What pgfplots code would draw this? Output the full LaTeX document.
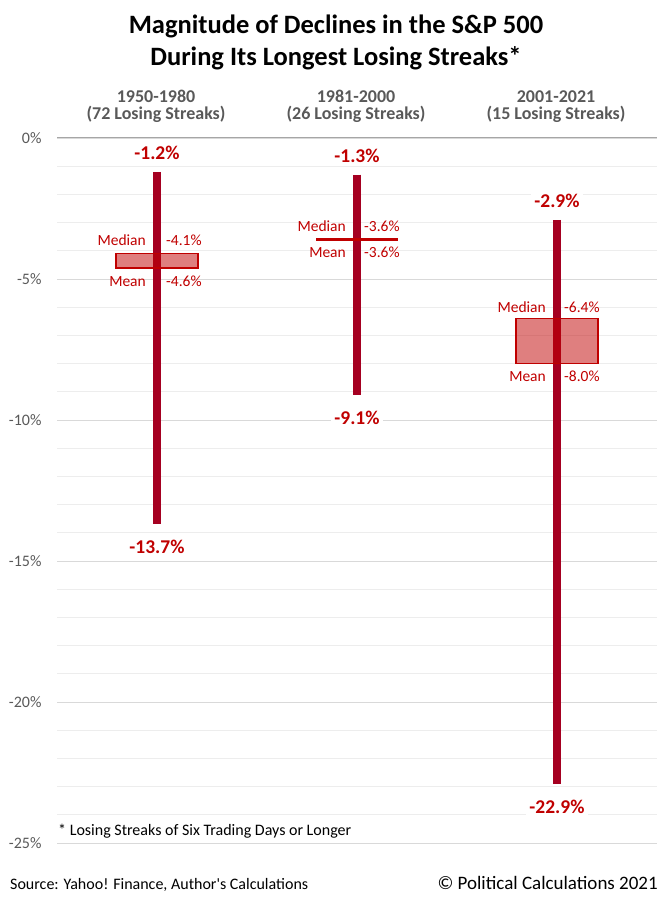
\documentclass[border=0pt]{standalone}
\usepackage{fontspec}
\setmainfont{Carlito}[Ligatures=TeXOff]
\usepackage{pgfplots}
\pgfplotsset{compat=1.18}
\definecolor{barred}{HTML}{A50021}
\definecolor{boxred}{HTML}{C00000}
\definecolor{labred}{HTML}{C00000}
\definecolor{tickgray}{HTML}{595959}
\definecolor{gridmajor}{HTML}{D9D9D9}
\definecolor{gridminor}{HTML}{EDEDED}
\definecolor{zeroline}{HTML}{A6A6A6}
\begin{document}
\begin{tikzpicture}[x=1pt,y=1pt]
\path[use as bounding box] (0,0) rectangle (669,900);
\begin{axis}[
  at={(57pt,57pt)}, anchor=south west, scale only axis,
  width=600pt, height=705pt,
  xmin=-0.5, xmax=2.5, ymin=-25, ymax=0,
  axis line style={draw=none},
  tick style={draw=none},
  xtick=\empty,
  ytick={-25,-20,-15,-10,-5,0},
  minor ytick={-24,-23,-22,-21,-19,-18,-17,-16,-14,-13,-12,-11,-9,-8,-7,-6,-4,-3,-2,-1},
  ymajorgrids, yminorgrids,
  major grid style={color=gridmajor, line width=0.9pt},
  minor grid style={color=gridminor, line width=0.9pt},
  /pgf/number format/assume math mode=true,
  yticklabel={\pgfmathprintnumber{\tick}\%},
  yticklabel style={font=\fontsize{16}{19}\selectfont, text=tickgray, anchor=east, xshift=-12pt},
  clip=false,
]
% zero line
\addplot[zeroline, line width=1pt] coordinates {(-0.5,0) (2.5,0)};
% high-low bars
\addplot[barred, line width=8pt] coordinates {(0,-1.2) (0,-13.7)};
\addplot[barred, line width=8pt] coordinates {(1,-1.3) (1,-9.1)};
\addplot[barred, line width=8pt] coordinates {(2,-2.9) (2,-22.9)};
% median-mean boxes
\addplot[draw=boxred, line width=1.6pt, fill=boxred, fill opacity=0.5] coordinates {(-0.205,-4.1) (0.205,-4.1) (0.205,-4.6) (-0.205,-4.6)} --cycle;
\addplot[draw=boxred, line width=2.6pt] coordinates {(0.795,-3.6) (1.205,-3.6)};
\addplot[draw=boxred, line width=1.6pt, fill=boxred, fill opacity=0.5] coordinates {(1.795,-6.4) (2.205,-6.4) (2.205,-8.0) (1.795,-8.0)} --cycle;
% high/low labels
\tikzset{hl/.style={font=\fontsize{19.5}{22}\selectfont\bfseries, text=labred, fill=white, inner sep=3pt},
         ml/.style={font=\fontsize{15.5}{18}\selectfont, text=labred, inner sep=0pt}}
\node[hl] at (axis cs:0,-1.2) [yshift=19pt] {-1.2\%};
\node[hl] at (axis cs:0,-13.7) [yshift=-23pt] {-13.7\%};
\node[hl] at (axis cs:1,-1.3) [yshift=19pt] {-1.3\%};
\node[hl] at (axis cs:1,-9.1) [yshift=-23pt] {-9.1\%};
\node[hl] at (axis cs:2,-2.9) [yshift=19pt] {-2.9\%};
\node[hl] at (axis cs:2,-22.9) [yshift=-23pt] {-22.9\%};
% median / mean labels
\node[ml, anchor=east] at (axis cs:0,-4.1) [xshift=-11pt, yshift=13pt] {Median};
\node[ml, anchor=west] at (axis cs:0,-4.1) [xshift=9pt, yshift=13pt] {-4.1\%};
\node[ml, anchor=east] at (axis cs:0,-4.6) [xshift=-11pt, yshift=-14pt] {Mean};
\node[ml, anchor=west] at (axis cs:0,-4.6) [xshift=9pt, yshift=-14pt] {-4.6\%};
\node[ml, anchor=east] at (axis cs:1,-3.6) [xshift=-11pt, yshift=13pt] {Median};
\node[ml, anchor=west] at (axis cs:1,-3.6) [xshift=7pt, yshift=13pt] {-3.6\%};
\node[ml, anchor=east] at (axis cs:1,-3.6) [xshift=-11pt, yshift=-13pt] {Mean};
\node[ml, anchor=west] at (axis cs:1,-3.6) [xshift=7pt, yshift=-13pt] {-3.6\%};
\node[ml, anchor=east] at (axis cs:2,-6.4) [xshift=-11pt, yshift=11pt] {Median};
\node[ml, anchor=west] at (axis cs:2,-6.4) [xshift=7pt, yshift=11pt] {-6.4\%};
\node[ml, anchor=east] at (axis cs:2,-8.0) [xshift=-11pt, yshift=-13pt] {Mean};
\node[ml, anchor=west] at (axis cs:2,-8.0) [xshift=7pt, yshift=-13pt] {-8.0\%};
\end{axis}
% title
\node[anchor=base, font=\fontsize{26.5}{30}\selectfont\bfseries] at (336,866) {Magnitude of Declines in the S\&P 500};
\node[anchor=base, font=\fontsize{26.5}{30}\selectfont\bfseries] at (336,834) {During Its Longest Losing Streaks*};
% headers
\foreach \cx/\ya/\yb in {156/1950-1980/(72 Losing Streaks), 356/1981-2000/(26 Losing Streaks), 556/2001-2021/(15 Losing Streaks)} {
  \node[anchor=base, font=\fontsize{18}{21}\selectfont\bfseries, text=tickgray] at (\cx,797) {\ya};
  \node[anchor=base, font=\fontsize{18}{21}\selectfont\bfseries, text=tickgray] at (\cx,780) {\yb};
}
% footnote and source
\node[anchor=west, font=\fontsize{16}{19}\selectfont, inner sep=0pt] at (58,69) {* Losing Streaks of Six Trading Days or Longer};
\node[anchor=west, font=\fontsize{16}{19}\selectfont, inner sep=0pt] at (10,15) {Source: Yahoo! Finance, Author's Calculations};
\node[anchor=east, font=\fontsize{19}{22}\selectfont, inner sep=0pt] at (658,17) {© Political Calculations 2021};
\end{tikzpicture}
\end{document}
